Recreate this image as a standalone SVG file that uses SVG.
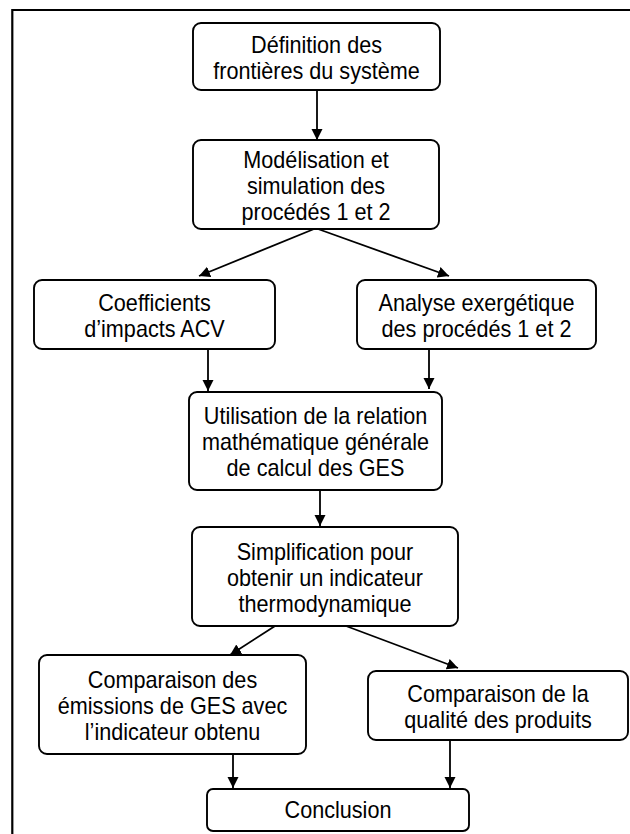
<svg xmlns="http://www.w3.org/2000/svg" width="630" height="834" viewBox="0 0 630 834">
<defs>
<marker id="ah" markerWidth="12" markerHeight="12" viewBox="0 0 12 12" refX="11" refY="6" orient="auto" markerUnits="userSpaceOnUse">
<path d="M0,0.5 L11,6 L0,11.5 Z" fill="#000"/>
</marker>
<style>
.box{fill:#fff;stroke:#000;stroke-width:1.9}
.t{font-family:"Liberation Sans",Arial,sans-serif;font-size:23px;fill:#000;text-anchor:middle}
.c{stroke:#000;stroke-width:1.8;fill:none;marker-end:url(#ah)}
</style>
</defs>
<rect width="630" height="834" fill="#fff"/>
<path d="M12.3,834 V10 H630" fill="none" stroke="#000" stroke-width="2.2"/>
<g id="connectors">
<line class="c" x1="317" y1="90" x2="317" y2="140"/>
<line class="c" x1="314" y1="229" x2="199" y2="276"/>
<line class="c" x1="318" y1="229" x2="449" y2="276"/>
<line class="c" x1="208" y1="349" x2="208" y2="391"/>
<line class="c" x1="429" y1="349" x2="429" y2="389"/>
<line class="c" x1="320" y1="490" x2="320" y2="526"/>
<line class="c" x1="275" y1="626" x2="230" y2="655"/>
<line class="c" x1="346" y1="626" x2="458" y2="668"/>
<line class="c" x1="233" y1="754" x2="233" y2="788"/>
<line class="c" x1="450" y1="740" x2="450" y2="788"/>
</g>
<g id="n1">
<rect class="box" x="193" y="23" width="247" height="67" rx="8"/>
<g transform="translate(316.5,0) scale(0.94,1)">
<text class="t" x="0" y="53">Définition des</text>
<text class="t" x="0" y="79">frontières du système</text>
</g>
</g>
<g id="n2">
<rect class="box" x="193" y="140" width="246" height="89" rx="8"/>
<g transform="translate(316,0) scale(0.94,1)">
<text class="t" x="0" y="168">Modélisation et</text>
<text class="t" x="0" y="194">simulation des</text>
<text class="t" x="0" y="220">procédés 1 et 2</text>
</g>
</g>
<g id="n3">
<rect class="box" x="34" y="280" width="241" height="69" rx="8"/>
<g transform="translate(154.5,0) scale(0.94,1)">
<text class="t" x="0" y="311">Coefficients</text>
<text class="t" x="0" y="337">d’impacts ACV</text>
</g>
</g>
<g id="n4">
<rect class="box" x="357" y="280" width="239" height="69" rx="8"/>
<g transform="translate(476.5,0) scale(0.94,1)">
<text class="t" x="0" y="311">Analyse exergétique</text>
<text class="t" x="0" y="337">des procédés 1 et 2</text>
</g>
</g>
<g id="n5">
<rect class="box" x="189" y="392" width="253" height="98" rx="8"/>
<g transform="translate(315.5,0) scale(0.94,1)">
<text class="t" x="0" y="424">Utilisation de la relation</text>
<text class="t" x="0" y="450">mathématique générale</text>
<text class="t" x="0" y="476">de calcul des GES</text>
</g>
</g>
<g id="n6">
<rect class="box" x="192" y="527" width="266" height="99" rx="8"/>
<g transform="translate(325,0) scale(0.94,1)">
<text class="t" x="0" y="560">Simplification pour</text>
<text class="t" x="0" y="586">obtenir un indicateur</text>
<text class="t" x="0" y="612">thermodynamique</text>
</g>
</g>
<g id="n7">
<rect class="box" x="39" y="655" width="267" height="99" rx="8"/>
<g transform="translate(172.5,0) scale(0.94,1)">
<text class="t" x="0" y="688">Comparaison des</text>
<text class="t" x="0" y="714">émissions de GES avec</text>
<text class="t" x="0" y="740">l’indicateur obtenu</text>
</g>
</g>
<g id="n8">
<rect class="box" x="368" y="671" width="260" height="69" rx="8"/>
<g transform="translate(498,0) scale(0.94,1)">
<text class="t" x="0" y="702">Comparaison de la</text>
<text class="t" x="0" y="728">qualité des produits</text>
</g>
</g>
<g id="n9">
<rect class="box" x="207" y="789" width="262" height="42" rx="6"/>
<g transform="translate(338,0) scale(0.94,1)">
<text class="t" x="0" y="818">Conclusion</text>
</g>
</g>
</svg>
